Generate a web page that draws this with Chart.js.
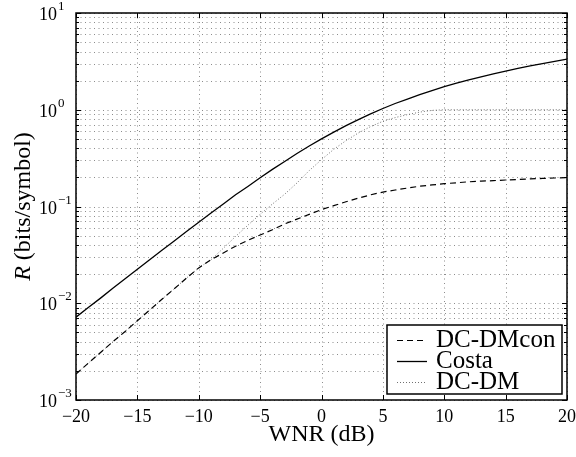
<!DOCTYPE html>
<html>
<head>
<meta charset="utf-8">
<script src="https://cdn.jsdelivr.net/npm/chart.js@4.4.1/dist/chart.umd.min.js"></script>
<style>
  html, body { margin: 0; padding: 0; background: #fff; }
  #wrap { width: 576px; height: 457px; }
</style>
</head>
<body>
<div id="wrap"><canvas id="rateChart" width="576" height="457"></canvas></div>
<script>
// WNR sweep (dB) and achievable rates (bits/symbol)
const wnrDb = [-20, -19, -18, -17, -16, -15, -14, -13, -12, -11, -10, -9, -8, -7, -6, -5, -4, -3, -2, -1,
  0, 1, 2, 3, 4, 5, 6, 7, 8, 9, 10, 11, 12, 13, 14, 15, 16, 17, 18, 19, 20];

const rateDcDmCon = [0.00186, 0.0024, 0.0031, 0.0040, 0.0051, 0.0066, 0.0085, 0.0110, 0.0141, 0.0182,
  0.0232, 0.0282, 0.0331, 0.0389, 0.0447, 0.0507, 0.0575, 0.066, 0.074, 0.083,
  0.093, 0.102, 0.112, 0.122, 0.132, 0.141, 0.148, 0.155, 0.162, 0.167,
  0.172, 0.176, 0.180, 0.183, 0.185, 0.188, 0.190, 0.193, 0.195, 0.197, 0.199];

const rateCosta = [0.00718, 0.00902, 0.0113, 0.0143, 0.0179, 0.0225, 0.0282, 0.0353, 0.0441, 0.0552,
  0.0688, 0.0855, 0.106, 0.132, 0.161, 0.198, 0.242, 0.292, 0.353, 0.422,
  0.500, 0.588, 0.685, 0.791, 0.906, 1.03, 1.16, 1.29, 1.43, 1.58,
  1.73, 1.88, 2.04, 2.19, 2.35, 2.51, 2.68, 2.84, 3.00, 3.16, 3.33];

const rateDcDm = [0.00186, 0.0024, 0.0031, 0.0040, 0.0051, 0.0066, 0.0085, 0.0110, 0.0141, 0.0182,
  0.0232, 0.0282, 0.037, 0.049, 0.064, 0.083, 0.106, 0.134, 0.175, 0.235,
  0.305, 0.39, 0.48, 0.575, 0.67, 0.76, 0.83, 0.89, 0.945, 0.985,
  1.0, 1.0, 1.0, 1.0, 1.0, 1.0, 1.0, 1.0, 1.0, 1.0, 1.0];

const xTicks = [-20, -15, -10, -5, 0, 5, 10, 15, 20];
const yDecades = [-3, -2, -1, 0, 1];
const yMinorSteps = [2, 3, 4, 5, 6, 7, 8, 9];

const SERIF = '"Liberation Serif", "DejaVu Serif", serif';

function toPoints(ys) {
  return wnrDb.map((x, i) => ({ x: x, y: ys[i] }));
}

function fmtMinus(v) {
  return v < 0 ? '\u2212' + Math.abs(v) : String(v);
}

// grid, frame, tick marks, labels and legend box in MATLAB style
const axesFrame = {
  id: 'axesFrame',
  beforeDatasetsDraw(chart) {
    const { ctx, chartArea: a, scales: { x, y } } = chart;
    ctx.save();
    ctx.strokeStyle = '#8c8c8c';
    ctx.lineWidth = 1;
    ctx.setLineDash([1, 3.5]);
    xTicks.forEach(v => {
      const px = Math.round(x.getPixelForValue(v)) + 0.5;
      ctx.beginPath(); ctx.moveTo(px, a.top); ctx.lineTo(px, a.bottom); ctx.stroke();
    });
    yDecades.forEach(e => {
      const vals = [Math.pow(10, e)];
      if (e < 1) yMinorSteps.forEach(m => vals.push(m * Math.pow(10, e)));
      vals.forEach(v => {
        const py = Math.round(y.getPixelForValue(v)) + 0.5;
        ctx.beginPath(); ctx.moveTo(a.left, py); ctx.lineTo(a.right, py); ctx.stroke();
      });
    });
    ctx.restore();
  },
  afterDatasetsDraw(chart) {
    const { ctx, chartArea: a, scales: { x, y } } = chart;
    ctx.save();
    ctx.setLineDash([]);
    ctx.strokeStyle = '#000';
    ctx.fillStyle = '#000';

    // tick marks pointing inward on all four sides
    ctx.lineWidth = 1;
    xTicks.forEach(v => {
      const px = Math.round(x.getPixelForValue(v)) + 0.5;
      ctx.beginPath();
      ctx.moveTo(px, a.bottom); ctx.lineTo(px, a.bottom - 5);
      ctx.moveTo(px, a.top); ctx.lineTo(px, a.top + 5);
      ctx.stroke();
    });
    yDecades.forEach(e => {
      const ticks = [[Math.pow(10, e), 5]];
      if (e < 1) yMinorSteps.forEach(m => ticks.push([m * Math.pow(10, e), 3]));
      ticks.forEach(([v, len]) => {
        const py = Math.round(y.getPixelForValue(v)) + 0.5;
        ctx.beginPath();
        ctx.moveTo(a.left, py); ctx.lineTo(a.left + len, py);
        ctx.moveTo(a.right, py); ctx.lineTo(a.right - len, py);
        ctx.stroke();
      });
    });

    // axes box
    ctx.lineWidth = 1.5;
    ctx.strokeRect(a.left, a.top, a.right - a.left, a.bottom - a.top);

    // x tick labels
    ctx.font = '18px ' + SERIF;
    ctx.textAlign = 'center';
    ctx.textBaseline = 'alphabetic';
    xTicks.forEach(v => {
      ctx.fillText(fmtMinus(v), x.getPixelForValue(v), a.bottom + 22);
    });

    // y tick labels: 10 with superscript exponent
    yDecades.forEach(e => {
      const py = y.getPixelForValue(Math.pow(10, e));
      ctx.font = '18px ' + SERIF;
      ctx.textAlign = 'right';
      ctx.fillText('10', a.left - 19, py + 7);
      ctx.font = '13px ' + SERIF;
      ctx.textAlign = 'left';
      ctx.fillText(fmtMinus(e), a.left - 18, py - 3);
    });

    // axis titles
    ctx.font = '24px ' + SERIF;
    ctx.textAlign = 'center';
    ctx.fillText('WNR (dB)', (a.left + a.right) / 2, a.bottom + 41);

    ctx.save();
    ctx.translate(22, (a.top + a.bottom) / 2);
    ctx.rotate(-Math.PI / 2);
    const italic = 'italic 24px ' + SERIF;
    const plain = '24px ' + SERIF;
    ctx.font = italic;
    const wR = ctx.measureText('R').width;
    ctx.font = plain;
    const rest = ' (bits/symbol)';
    const wRest = ctx.measureText(rest).width;
    const x0 = -(wR + wRest) / 2;
    ctx.textAlign = 'left';
    ctx.font = italic;
    ctx.fillText('R', x0, 8);
    ctx.font = plain;
    ctx.fillText(rest, x0 + wR, 8);
    ctx.restore();

    // legend
    const bx = a.right - 180, by = a.bottom - 75, bw = 175, bh = 69;
    ctx.fillStyle = '#fff';
    ctx.fillRect(bx, by, bw, bh);
    ctx.lineWidth = 1.5;
    ctx.strokeStyle = '#000';
    ctx.strokeRect(bx, by, bw, bh);
    ctx.font = '25px ' + SERIF;
    ctx.textAlign = 'left';
    chart.data.datasets.forEach((ds, i) => {
      const ly = by + 15 + i * 21;
      ctx.save();
      ctx.strokeStyle = ds.borderColor;
      ctx.lineWidth = ds.borderWidth;
      ctx.setLineDash(ds.borderDash || []);
      ctx.beginPath();
      ctx.moveTo(bx + 10, ly + 0.5); ctx.lineTo(bx + 40, ly + 0.5);
      ctx.stroke();
      ctx.restore();
      ctx.fillStyle = '#000';
      ctx.fillText(ds.label, bx + 49, ly + 7);
    });
    ctx.restore();
  }
};

new Chart(document.getElementById('rateChart').getContext('2d'), {
  type: 'line',
  data: {
    datasets: [
      {
        label: 'DC-DMcon',
        data: toPoints(rateDcDmCon),
        borderColor: '#000',
        borderWidth: 1.2,
        borderDash: [6, 4],
        pointRadius: 0,
        fill: false
      },
      {
        label: 'Costa',
        data: toPoints(rateCosta),
        borderColor: '#000',
        borderWidth: 1.3,
        pointRadius: 0,
        fill: false
      },
      {
        label: 'DC-DM',
        data: toPoints(rateDcDm),
        borderColor: '#707070',
        borderWidth: 1,
        borderDash: [1, 2],
        pointRadius: 0,
        fill: false
      }
    ]
  },
  options: {
    responsive: false,
    animation: false,
    events: [],
    layout: { padding: { top: 13, right: 9, left: 0, bottom: 0 } },
    plugins: {
      legend: { display: false },
      tooltip: { enabled: false }
    },
    scales: {
      x: {
        type: 'linear',
        min: -20,
        max: 20,
        grid: { display: false },
        border: { display: false },
        ticks: { display: false },
        afterFit: function(scale) { scale.height = 57; }
      },
      y: {
        type: 'logarithmic',
        min: 0.001,
        max: 10,
        grid: { display: false },
        border: { display: false },
        ticks: { display: false },
        afterFit: function(scale) { scale.width = 76; }
      }
    }
  },
  plugins: [axesFrame]
});
</script>
</body>
</html>
